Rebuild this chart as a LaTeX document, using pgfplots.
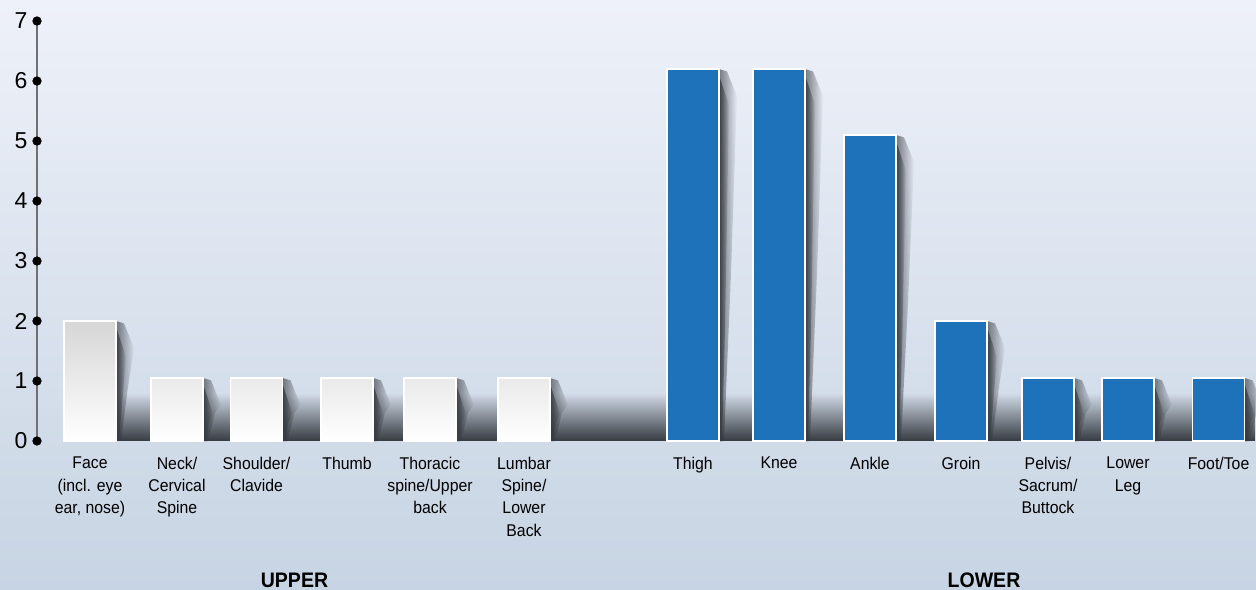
\documentclass[border=0pt]{standalone}
\usepackage{fontspec}
\setmainfont{Liberation Sans}[FakeStretch=0.93]
\newfontfamily\tickfont{Liberation Sans}
\usepackage{pgfplots}
\pgfplotsset{compat=1.18}
\usetikzlibrary{fadings}
\definecolor{bgtop}{RGB}{238,241,249}
\definecolor{bgbot}{RGB}{199,212,227}
\definecolor{barblue}{RGB}{29,114,185}
\definecolor{shadowc}{RGB}{55,59,65}
\definecolor{barltop}{RGB}{214,214,214}
\definecolor{axisgray}{RGB}{112,112,116}
\begin{document}
\begin{tikzpicture}[x=1pt,y=1pt]
\shade[top color=bgtop, bottom color=bgbot] (0,0) rectangle (628,294.5);
\begin{axis}[
  at={(18.5pt,74pt)}, anchor=south west,
  scale only axis, width=609.5pt, height=210pt,
  xmin=37, xmax=1256, ymin=0, ymax=7,
  clip=false,
  axis lines=left, axis line style={-},
  x axis line style={draw=none},
  y axis line style={draw=axisgray, line width=0.75pt},
  major tick length=0pt,
  ytick={0,1,2,3,4,5,6,7},
  /pgf/number format/assume math mode=true,
  yticklabel style={font=\tickfont\fontsize{11.5}{13}\selectfont, xshift=-1.2pt},
  xtick={90,177,256.5,347,430,524,693,779,870,961,1048,1128,1218.5},
  xticklabels={{Face\\(incl. eye\\ear, nose)},{Neck/\\Cervical\\Spine},{Shoulder/\\Clavide},{Thumb},{Thoracic\\spine/Upper\\back},{Lumbar\\Spine/\\Lower\\Back},{Thigh},{Knee},{Ankle},{Groin},{Pelvis/\\Sacrum/\\Buttock},{Lower\\Leg},{Foot/Toe}},
  xticklabel style={font=\fontsize{8.5}{11.15}\selectfont, align=center, yshift=-4.5pt},
]
% floor shadow band
\fill[shadowc, path fading=north] (axis cs:117,0) rectangle (axis cs:1256,0.8);
% bar shadows
\foreach \c/\h in {90/2,177/1.05,256.5/1.05,347/1.05,430/1.05,524/1.05,693/6.2,779/6.2,870/5.1,961/2,1048/1.05,1128/1.05,1218.5/1.05}{
  \pgfmathsetmacro\R{\c+26}
  \pgfmathsetmacro\Ra{\c+34}
  \pgfmathsetmacro\Rb{\c+44}
  \pgfmathsetmacro\Rc{\c+38}
  \pgfmathsetmacro\Rd{\c+31}
  \pgfmathsetmacro\Re{\c+36}
  \pgfmathsetmacro\Rg{\c+32}
  \pgfmathsetmacro\Rf{\c+29}
  \pgfmathsetmacro\ha{\h-0.04}
  \pgfmathsetmacro\hb{\h-0.45}
  \pgfmathsetmacro\hc{\h*0.45}
  \pgfmathsetmacro\hd{\h-0.1}
  \pgfmathsetmacro\he{\h-0.6}
  \pgfmathsetmacro\hf{\h*0.3}
  \edef\tmp{\noexpand\fill[shadowc, opacity=0.65, path fading=east] (axis cs:\R,0) -- (axis cs:\R,\h) -- (axis cs:\Ra,\ha) -- (axis cs:\Rb,\hb) -- (axis cs:\Rc,\hc) -- (axis cs:\Rd,0) -- cycle;
  \noexpand\fill[shadowc, opacity=0.9, path fading=east] (axis cs:\R,0) -- (axis cs:\R,\hd) -- (axis cs:\Re,\he) -- (axis cs:\Rg,\hf) -- (axis cs:\Rf,0) -- cycle;}
  \tmp
}
% upper group bars
\addplot[ybar, bar width=52, bar shift=0pt, draw=white, line width=0.6pt, top color=barltop, bottom color=white]
  coordinates {(90,2) (177,1.05) (256.5,1.05) (347,1.05) (430,1.05) (524,1.05)};
% lower group bars
\addplot[ybar, bar width=52, bar shift=0pt, draw=white, line width=0.6pt, fill=barblue]
  coordinates {(693,6.2) (779,6.2) (870,5.1) (961,2) (1048,1.05) (1128,1.05) (1218.5,1.05)};
% axis dots
\addplot[only marks, mark=*, mark size=2.1pt, black]
  coordinates {(37,0) (37,1) (37,2) (37,3) (37,4) (37,5) (37,6) (37,7)};
\node[font=\bfseries\fontsize{10.5}{12}\selectfont] at (axis cs:294.5,-2.32) {UPPER};
\node[font=\bfseries\fontsize{10.5}{12}\selectfont] at (axis cs:984,-2.32) {LOWER};
\end{axis}
\pgfresetboundingbox
\useasboundingbox (0,0) rectangle (628,294.5);
\end{tikzpicture}
\end{document}
